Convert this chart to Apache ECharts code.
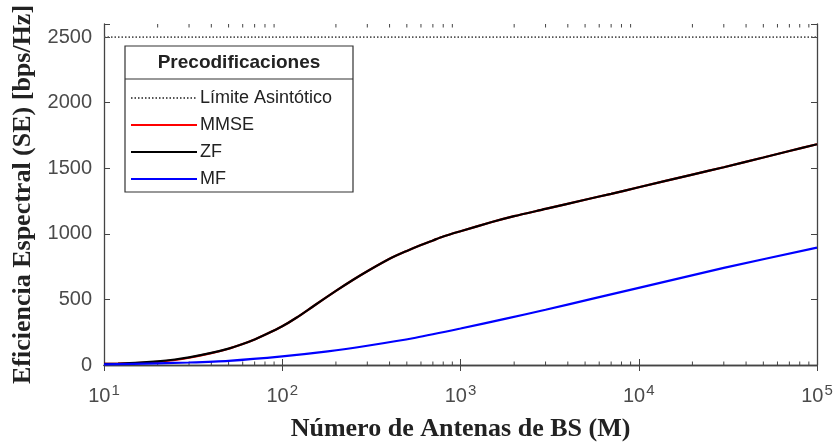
<!DOCTYPE html>
<html>
<head>
<meta charset="utf-8">
<script src="https://cdn.jsdelivr.net/npm/echarts@6/dist/echarts.min.js"></script>
<style>
	html, body { margin: 0; padding: 0; background: #fff; }
	#chart { width: 836px; height: 447px; }
</style>
</head>
<body>
<div id="chart"></div>
<script>
// antenas M (eje x, log)
var antenas = [10, 12, 15, 20, 25, 30, 40, 50, 60, 70, 80, 100, 120, 150, 200, 250, 300, 400, 500, 600, 700, 800, 1000, 1500, 2000, 3000, 5000, 7000, 10000, 20000, 30000, 50000, 70000, 100000];
// eficiencia espectral por precodificador
var seZF = [8, 11, 16, 28, 42, 58, 92, 125, 160, 195, 230, 295, 360, 450, 565, 650, 715, 810, 870, 915, 950, 980, 1020, 1090, 1135, 1190, 1260, 1305, 1355, 1452, 1508, 1582, 1632, 1683];
var seMMSE = [8, 10, 14, 24, 38, 55, 90, 124, 160, 195, 230, 295, 360, 450, 565, 650, 715, 810, 870, 915, 950, 980, 1020, 1090, 1135, 1190, 1260, 1305, 1355, 1452, 1508, 1582, 1632, 1683];
var antenasMF = [10, 20, 30, 50, 100, 180, 300, 560, 1000, 1800, 3000, 5600, 10000, 30000, 100000];
var seMF = [5, 13, 19, 32, 66, 104, 147, 208, 278, 354, 421, 508, 588, 740, 895];
// limite asintotico
var limiteX = [10, 100000];
var limiteY = [2500, 2500];
// ticks menores del eje log
var decadas = [10, 100, 1000, 10000];
var minorTicks = [];
decadas.forEach(function (d) {
	for (var k = 2; k <= 9; k++) minorTicks.push([d * k, 0]);
});

function pares(xs, ys) {
	return xs.map(function (x, i) { return [x, ys[i]]; });
}

var axisColor = '#444';
var labelColor = '#4a4a4a';

var chart = echarts.init(document.getElementById('chart'));

var option = {
	animation: false,
	backgroundColor: '#fff',
	grid: { left: 104, right: 19, top: 24, bottom: 80 },
	xAxis: [
		{
			type: 'log', logBase: 10, min: 10, max: 100000,
			name: 'Número de Antenas de BS (M)',
			nameLocation: 'middle', nameGap: 51,
			nameTextStyle: { fontFamily: 'Liberation Serif', fontWeight: 'bold', fontSize: 26, color: '#222' },
			axisLine: { lineStyle: { color: axisColor, width: 1.3 } },
			axisTick: { inside: true, length: 6, lineStyle: { color: axisColor } },
			splitLine: { show: false },
			axisLabel: {
				margin: 18,
				formatter: function (v) {
					return '{b|10}{s|' + Math.round(Math.log10(v)) + '}';
				},
				rich: {
					b: { fontFamily: 'Liberation Sans', fontSize: 20, color: labelColor },
					s: { fontFamily: 'Liberation Sans', fontSize: 15, color: labelColor, padding: [0, 0, 11, 1] }
				}
			}
		},
		{
			type: 'log', logBase: 10, min: 10, max: 100000, position: 'top',
			axisLine: { lineStyle: { color: axisColor, width: 1.3 } },
			axisTick: { inside: true, length: 6, lineStyle: { color: axisColor } },
			axisLabel: { show: false },
			splitLine: { show: false }
		}
	],
	yAxis: [
		{
			type: 'value', min: 0, max: 2600, interval: 500,
			name: 'Eficiencia Espectral (SE) [bps/Hz]',
			nameLocation: 'middle', nameGap: 68,
			nameTextStyle: { fontFamily: 'Liberation Serif', fontWeight: 'bold', fontSize: 26, color: '#222' },
			axisLine: { show: true, lineStyle: { color: axisColor, width: 1.3 } },
			axisTick: { show: true, inside: true, length: 6, lineStyle: { color: axisColor } },
			splitLine: { show: false },
			axisLabel: {
				margin: 12, fontFamily: 'Liberation Sans', fontSize: 20, color: labelColor,
				formatter: function (v) { return v > 2500 ? '' : v; }
			}
		},
		{
			type: 'value', min: 0, max: 2600, interval: 500, position: 'right',
			axisLine: { show: true, lineStyle: { color: axisColor, width: 1.3 } },
			axisTick: { show: true, inside: true, length: 6, lineStyle: { color: axisColor } },
			axisLabel: { show: false },
			splitLine: { show: false }
		}
	],
	legend: {
		data: ['Límite Asintótico', 'MMSE', 'ZF', 'MF'],
		orient: 'vertical',
		left: 130, top: 89, padding: 0,
		itemWidth: 66, itemHeight: 14, itemGap: 9,
		itemStyle: { opacity: 0 },
		textStyle: { fontFamily: 'Liberation Sans', fontSize: 18, color: '#222', padding: [0, 0, 0, -2] }
	},
	graphic: [
		{
			type: 'rect', x: 125, y: 46, z: -1,
			shape: { width: 228, height: 146 },
			style: { fill: '#fff', stroke: '#333', lineWidth: 1.2 }
		},
		{
			type: 'line', z: -1,
			shape: { x1: 125, y1: 79, x2: 353, y2: 79 },
			style: { stroke: '#333', lineWidth: 1.2 }
		},
		{
			type: 'text', x: 239, y: 63,
			style: {
				text: 'Precodificaciones', align: 'center', verticalAlign: 'middle',
				fontFamily: 'Liberation Sans', fontWeight: 'bold', fontSize: 19, fill: '#222'
			}
		}
	],
	series: [
		{
			name: 'Límite Asintótico', type: 'line', symbol: 'none',
			data: pares(limiteX, limiteY),
			lineStyle: { color: '#555', width: 1.6, type: [1.5, 2] },
			itemStyle: { color: '#555' }
		},
		{
			name: 'MMSE', type: 'line', symbol: 'none', smooth: 0.25,
			data: pares(antenas, seMMSE),
			lineStyle: { color: '#ff0000', width: 2.2 },
			itemStyle: { color: '#ff0000' }
		},
		{
			name: 'ZF', type: 'line', symbol: 'none', smooth: 0.25,
			data: pares(antenas, seZF),
			lineStyle: { color: '#000', width: 2.2 },
			itemStyle: { color: '#000' }
		},
		{
			name: 'MF', type: 'line', symbol: 'none', smooth: 0.25,
			data: pares(antenasMF, seMF),
			lineStyle: { color: '#0000ff', width: 2.2 },
			itemStyle: { color: '#0000ff' }
		},
		{
			type: 'custom', silent: true, clip: false,
			data: minorTicks,
			renderItem: function (params, api) {
				var b = api.coord([api.value(0), 0]);
				var t = api.coord([api.value(0), 2600]);
				var st = { stroke: axisColor, lineWidth: 1 };
				return {
					type: 'group',
					children: [
						{ type: 'line', shape: { x1: b[0], y1: b[1], x2: b[0], y2: b[1] - 3.5 }, style: st },
						{ type: 'line', shape: { x1: t[0], y1: t[1], x2: t[0], y2: t[1] + 3.5 }, style: st }
					]
				};
			}
		}
	]
};

chart.setOption(option);
</script>
</body>
</html>
